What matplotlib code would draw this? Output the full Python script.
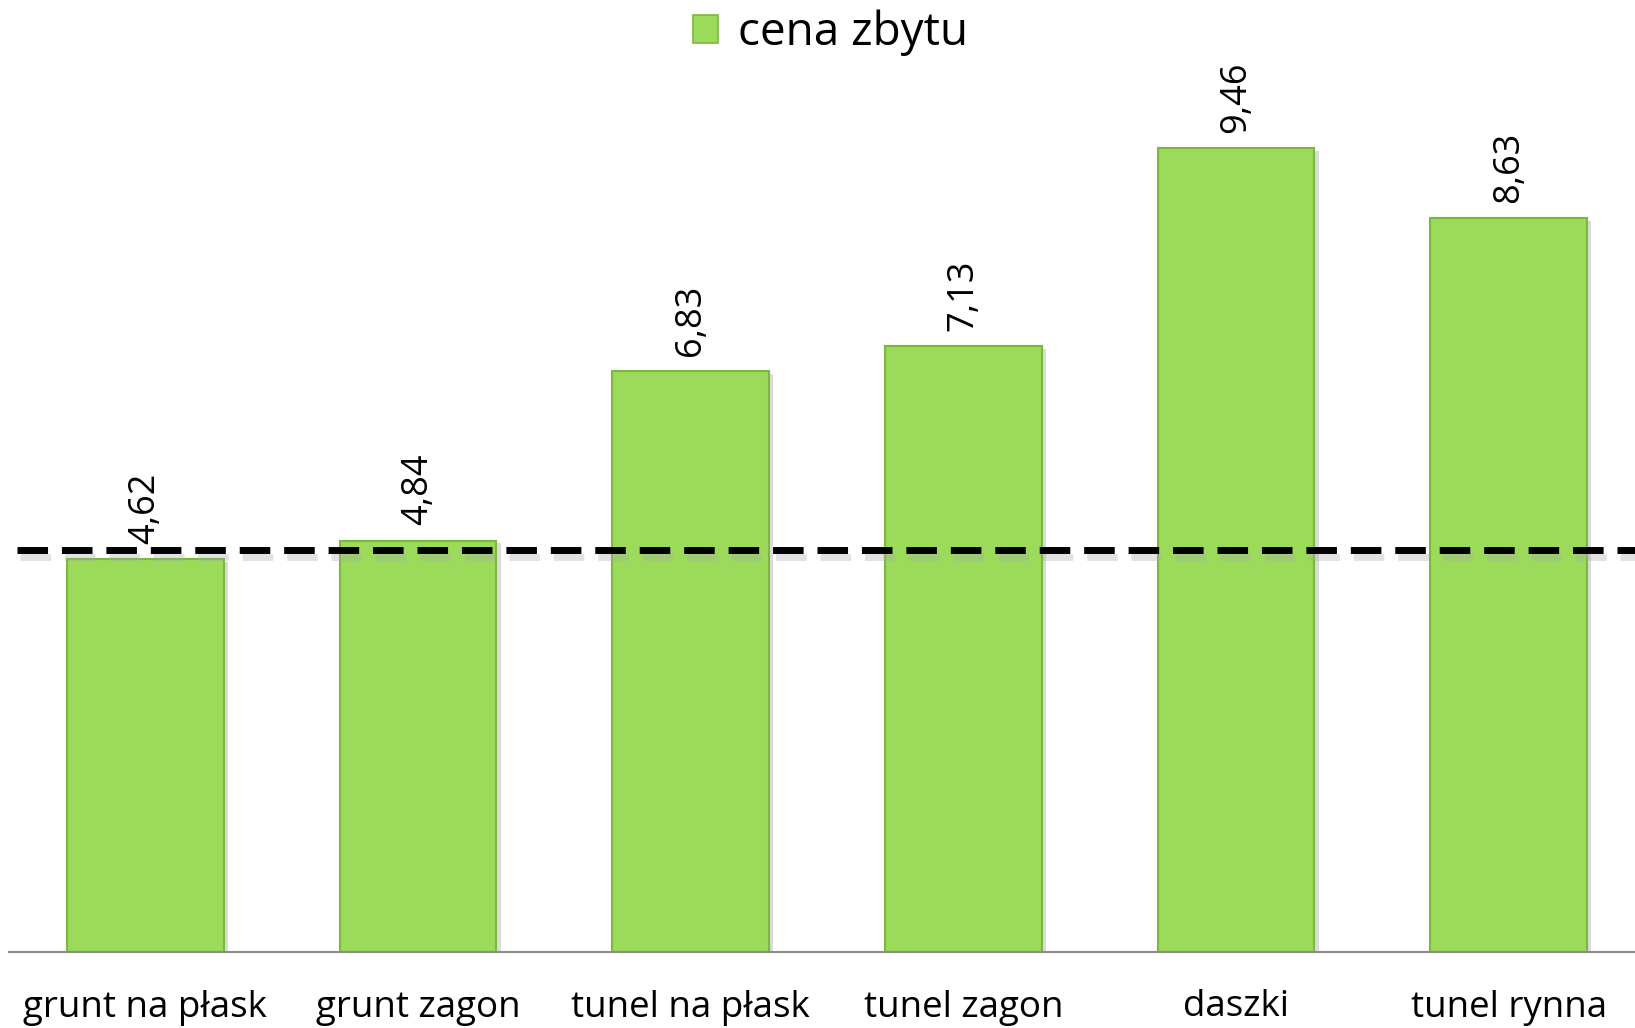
import matplotlib
matplotlib.use("Agg")
import matplotlib.pyplot as plt
import matplotlib.patheffects as pe
from matplotlib.patches import Patch

categories = ["grunt na płask", "grunt zagon", "tunel na płask", "tunel zagon", "daszki", "tunel rynna"]
values = [4.62, 4.84, 6.83, 7.13, 9.46, 8.63]
value_labels = ["4,62", "4,84", "6,83", "7,13", "9,46", "8,63"]
reference_level = 4.73
series_name = "cena zbytu"

plt.rcParams['font.family'] = ['Open Sans', 'DejaVu Sans']

W, H = 1635, 1028
fig = plt.figure(figsize=(W / 100, H / 100), dpi=100)
left_px, right_px = 9, 1645
base_px, top_px = 952, 102
ax = fig.add_axes([left_px / W, (H - base_px) / H, (right_px - left_px) / W, (base_px - top_px) / H])

x = list(range(len(categories)))
bars = ax.bar(x, values, width=0.575, color="#9CDB5A", edgecolor="#7BB840", linewidth=1.5,
              zorder=2, path_effects=[pe.SimplePatchShadow(offset=(3, -2), shadow_rgbFace="#9a9a9a", alpha=0.35), pe.Normal()])

for xi, v, lab in zip(x, values, value_labels):
    ax.annotate(lab, (xi, v), xytext=(0, 11), textcoords="offset points",
                rotation=90, ha="center", va="bottom", fontsize=26, color="black")

ax.axhline(reference_level, xmin=(17 - left_px) / (right_px - left_px), color="black", linewidth=5,
           linestyle=(0, (4.4, 2.0)), zorder=3,
           path_effects=[pe.SimpleLineShadow(offset=(2, -5), shadow_color="#aaaaaa", alpha=0.35), pe.Normal()])

ax.set_xlim(-0.5, len(categories) - 0.5)
ax.set_ylim(0, 10)
ax.set_xticks(x)
ax.set_xticklabels(categories, fontsize=26.5)
ax.tick_params(axis="x", length=0, pad=27)
ax.set_yticks([])
for s in ["top", "right", "left"]:
    ax.spines[s].set_visible(False)
ax.spines["bottom"].set_color("#8c8c8c")
ax.spines["bottom"].set_linewidth(1.5)

handle = Patch(facecolor="#9CDB5A", edgecolor="#7BB840", linewidth=1.2)
fig.legend([handle], [series_name], loc="center", bbox_to_anchor=(0.508, 0.968), frameon=False,
           fontsize=33, handlelength=0.55, handleheight=0.55, handletextpad=0.45)

fig.savefig("out.png", dpi=100)
